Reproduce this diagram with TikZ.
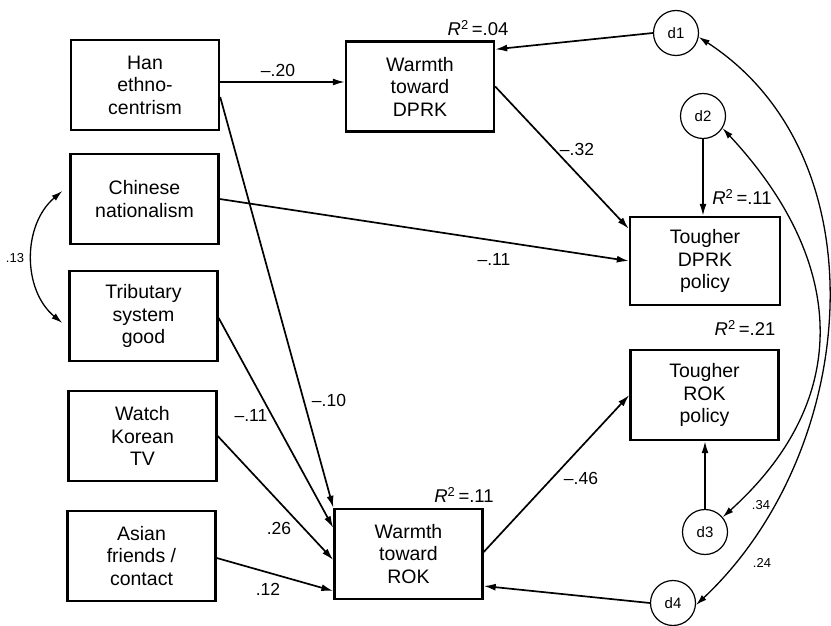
\documentclass[tikz,border=0pt]{standalone}
\usepackage{fontspec}
\setmainfont{Liberation Sans}
\usetikzlibrary{arrows.meta,calc}
\begin{document}
\begin{tikzpicture}[x=1pt,y=-1pt,
  box/.style={draw, line width=2.4pt, inner sep=0pt, minimum width=148pt, minimum height=90pt,
    align=center, font=\fontsize{19.5}{22.5}\selectfont},
  dist/.style={circle, draw, line width=1.2pt, minimum size=45pt, inner sep=0pt,
    font=\fontsize{15}{15}\selectfont},
  arr/.style={-{Latex[length=12pt,width=7pt]}, line width=1.7pt},
  carr/.style={{Latex[length=11pt,width=6.5pt]}-{Latex[length=11pt,width=6.5pt]}, line width=1.3pt},
  lab/.style={inner sep=0pt, font=\fontsize{17.5}{20}\selectfont},
  rlab/.style={inner sep=0pt, font=\fontsize{18.5}{20}\selectfont},
  slab/.style={inner sep=0pt, font=\fontsize{13}{15}\selectfont}]
\useasboundingbox (0,0) rectangle (831,626);

% exogenous boxes
\node[box] (han)   at (145,85)    {Han\\ethno-\\centrism};
\node[box] (chin)  at (144.5,199) {Chinese\\nationalism};
\node[box] (trib)  at (143.5,316) {Tributary\\system\\good};
\node[box] (watch) at (142.5,436) {Watch\\Korean\\TV};
\node[box] (asian) at (141.5,556) {Asian\\friends /\\contact};

% endogenous boxes
\node[box] (wdprk) at (420,86.5)  {Warmth\\toward\\DPRK};
\node[box] (wrok)  at (408.5,554) {Warmth\\toward\\ROK};
\node[box, minimum width=150pt, minimum height=88pt] (tdprk) at (705,261) {Tougher\\DPRK\\policy};
\node[box] (trok)  at (704.5,395) {Tougher\\ROK\\policy};

% disturbances
\node[dist] (d1) at (676,33)  {d1};
\node[dist] (d2) at (703,116) {d2};
\node[dist] (d3) at (705,532) {d3};
\node[dist] (d4) at (673,603) {d4};

% paths
\draw[arr] ([yshift=3pt]han.east) -- ([yshift=3pt]han.east -| wdprk.west);
\draw[arr] ([yshift=-12pt]han.east) -- (wrok.north west);
\draw[arr] (chin.east) -- (tdprk.west);
\draw[arr] ([yshift=-2pt]trib.east) -- ([yshift=26pt]wrok.west);
\draw[arr] (watch.east) -- ([yshift=-6pt]wrok.west);
\draw[arr] ([yshift=-2pt]asian.east) -- ([yshift=-37pt]wrok.west);
\draw[arr] (wdprk.east) -- ([yshift=-13pt]tdprk.north west);
\draw[arr] ([yshift=2pt]wrok.east) -- (trok.west);
\draw[arr] (d1.west) -- ([yshift=-9pt]wdprk.north east);
\draw[arr] (d2.south) -- (d2.south |- tdprk.north);
\draw[arr] (d3.north) -- (d3.north |- trok.south);
\draw[arr] (d4.west) -- ([yshift=-32pt]wrok.east);

% correlations
\draw[carr] (d1.-10) .. controls +(186,121) and +(162,-152) .. (d4.-5);
\draw[carr] (d2.-32) .. controls +(122,131) and +(133,-120) .. (d3.40);
\draw[carr] ([xshift=-7pt,yshift=8pt]chin.west) .. controls +(-40,34) and +(-40,-33) .. ([xshift=-6pt,yshift=-7pt]trib.west);

% path labels
\node[lab] (l20) at (278,70.5) {–.20};
\node[lab] (l10) at (329,400) {–.10};
\node[lab] (l11a) at (494,259) {–.11};
\node[lab] (l11b) at (251,415) {–.11};
\node[lab] (l26) at (279,528) {.26};
\node[lab] (l12) at (268,589) {.12};
\node[lab] (l32) at (577,149) {–.32};
\node[lab] (l46) at (581,478) {–.46};
\node[slab] (l13) at (15,258) {.13};
\node[slab] (l34) at (761,505) {.34};
\node[slab] (l24) at (762,563) {.24};

% R-squared
\node[rlab] (r1) at (478,28)  {\textit{R}\textsuperscript{2}\,=.04};
\node[rlab] (r2) at (742,197) {\textit{R}\textsuperscript{2}\,=.11};
\node[rlab] (r3) at (745,328) {\textit{R}\textsuperscript{2}\,=.21};
\node[rlab] (r4) at (464,495) {\textit{R}\textsuperscript{2}\,=.11};
\end{tikzpicture}
\end{document}
